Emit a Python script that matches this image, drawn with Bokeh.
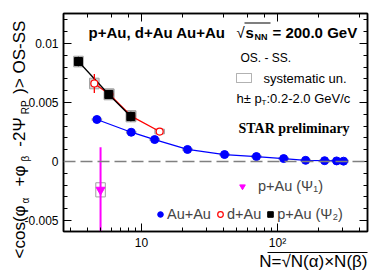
import math
from bokeh.plotting import figure
from bokeh.models import (Label, Span, BoxAnnotation, Legend, LegendItem, LinearAxis, LogAxis,
                          FixedTicker, PrintfTickFormatter, Range1d, LogTicker)
from bokeh.embed import file_html
from bokeh.resources import INLINE

# ---------------- data ----------------
auau_n = [4.7, 8.4, 12.5, 21.8, 40.8, 70, 111, 161, 222, 272, 306]
auau_v = [0.00356, 0.00248, 0.00186, 0.00102, 0.00059, 0.00042, 0.00025, 0.00010, 0.00007, 0.00005, 0.00003]
auau_sys = [0.0001] * 11

dau_n = [4.5, 5.8, 8.4, 13.6]
dau_v = [0.00661, 0.00570, 0.00385, 0.00254]
dau_err = [0.0008, 0.0002, 0.0003, 0.0001]
dau_sys = [0.00045, 0.00045, 0.00045, 0.0002]

pau2_n = [3.44, 5.75, 8.35]
pau2_v = [0.00847, 0.00568, 0.00381]
pau2_err = [0.0004, 0.0002, 0.0004]
pau2_sys = [0.00045, 0.00045, 0.00045]

pau1_n = [5.0]
pau1_v = [-0.0024]
pau1_err = [0.0036]
pau1_sys = [0.0006]

y_ticks = [-0.005, 0.0, 0.005, 0.01]

FONT = "Liberation Sans"
NB = "\u00a0"
# frame position on page
FL, FB, FR, FT = 63, 231, 367, 13
X_MIN, X_MAX = 2.67, 459

p = figure(width=382, height=274, x_axis_type="log",
           x_range=Range1d(X_MIN, X_MAX), y_range=Range1d(-0.00593, 0.01254),
           output_backend="svg", toolbar_location=None,
           min_border_left=FL, min_border_right=382 - FR, min_border_top=FT, min_border_bottom=274 - FB)
p.xgrid.visible = False
p.ygrid.visible = False
p.outline_line_color = "black"
p.outline_line_width = 1.5
p.background_fill_color = "white"

HW = 0.035  # half width of syst boxes in decades


def sysbox(ns, vs, ss, fill, line):
    p.quad(left=[n * 10 ** -HW for n in ns], right=[n * 10 ** HW for n in ns],
           bottom=[v - s for v, s in zip(vs, ss)], top=[v + s for v, s in zip(vs, ss)],
           fill_color=fill if fill else "white", fill_alpha=0.8 if fill else 0, line_color=line, line_width=1)


p.add_layout(Span(location=0, dimension="width", line_color="#808080", line_width=1.5, line_dash="12 5"))

sysbox(auau_n, auau_v, auau_sys, None, "#a0a0a0")
sysbox(dau_n, dau_v, dau_sys, "#c8c8c8", "#a0a0a0")
sysbox(pau2_n, pau2_v, pau2_sys, "#c8c8c8", "#a0a0a0")
sysbox(pau1_n, pau1_v, pau1_sys, None, "#a0a0a0")

p.line(auau_n, auau_v, line_color="#0000ff", line_width=1.3)
p.line(dau_n, dau_v, line_color="#ff0000", line_width=1.3)
p.line(pau2_n, pau2_v, line_color="black", line_width=1.3)

p.segment(x0=dau_n, x1=dau_n, y0=[v - e for v, e in zip(dau_v, dau_err)],
          y1=[v + e for v, e in zip(dau_v, dau_err)], line_color="#ff0000", line_width=1.3)
p.segment(x0=pau2_n, x1=pau2_n, y0=[v - e for v, e in zip(pau2_v, pau2_err)],
          y1=[v + e for v, e in zip(pau2_v, pau2_err)], line_color="black", line_width=1.3)
p.segment(x0=pau1_n, x1=pau1_n, y0=[v - e for v, e in zip(pau1_v, pau1_err)],
          y1=[v + e for v, e in zip(pau1_v, pau1_err)], line_color="#ff00ff", line_width=2)

r_auau = p.scatter(auau_n, auau_v, marker="circle", size=8, fill_color="#0000ff", line_color="#0000ff")
r_dau = p.scatter(dau_n, dau_v, marker="circle", size=7, fill_color="white", line_color="#ff0000", line_width=1.2)
r_pau2 = p.scatter(pau2_n, pau2_v, marker="square", size=8, fill_color="black", line_color="black")
r_pau1 = p.scatter(pau1_n, pau1_v, marker="inverted_triangle", size=9, fill_color="#ff00ff", line_color="#ff00ff")

# ---------------- axes ----------------
def style_axis(ax, labels=True):
    ax.major_tick_in = 8
    ax.major_tick_out = 0
    ax.minor_tick_in = 4
    ax.minor_tick_out = 0
    ax.axis_line_width = 1.5
    ax.major_tick_line_width = 1
    ax.minor_tick_line_width = 1
    ax.major_label_text_font = FONT
    ax.major_label_text_color = "black"
    if labels:
        ax.major_label_text_font_size = "12px"
    else:
        ax.major_label_text_font_size = "1px"
        ax.major_label_text_alpha = 0
        ax.major_label_standoff = 0
        ax.axis_label_standoff = 0


yt = FixedTicker(ticks=y_ticks, minor_ticks=[round(-0.006 + 0.001 * i, 4) for i in range(19)])
p.yaxis.ticker = yt
p.yaxis.formatter = PrintfTickFormatter(format="%g")
style_axis(p.yaxis[0])
p.yaxis.major_label_standoff = 5
style_axis(p.xaxis[0])
p.xaxis.major_label_overrides = {10: "10", 100: "10²"}
p.xaxis.major_label_standoff = 4

ra = LinearAxis(ticker=yt)
style_axis(ra, labels=False)
p.add_layout(ra, "right")
ta = LogAxis(ticker=LogTicker())
style_axis(ta, labels=False)
p.add_layout(ta, "above")

# overline of the square root in the x label: a bounded, tick-less axis line
ov = LogAxis(ticker=FixedTicker(ticks=[]), bounds=(84.4, X_MAX))
ov.major_tick_line_color = None
ov.minor_tick_line_color = None
ov.major_label_text_font_size = "1px"
ov.major_label_text_alpha = 0
ov.major_label_standoff = 0
ov.axis_label_standoff = 0
ov.axis_line_width = 1.2
ov.axis_line_color = "black"
p.add_layout(ov, "below")

# ---------------- text helpers ----------------
def lab(text, X, Y, size, bold=False, font=FONT, angle=0.0, align="left", baseline="middle", color="black"):
    p.add_layout(Label(x=X - FL, y=FB - Y, x_units="screen", y_units="screen", text=text,
                       text_font=font, text_font_size=f"{size}px",
                       text_font_style="bold" if bold else "normal", angle=angle,
                       text_align=align, text_baseline=baseline, text_color=color))


def side_lab(side, text, x, y, size, bold=False, angle=0.0, align="left", baseline="middle"):
    p.add_layout(Label(x=x, y=y, x_units="screen", y_units="screen", text=text,
                       text_font=FONT, text_font_size=f"{size}px",
                       text_font_style="bold" if bold else "normal", angle=angle,
                       text_align=align, text_baseline=baseline, text_color="black"), side)


def hbar(X0, X1, Y0, Y1, fill="black", line=None):
    p.add_layout(BoxAnnotation(left=X0 - FL, right=X1 - FL, top=FB - Y0, bottom=FB - Y1,
                               left_units="screen", right_units="screen",
                               top_units="screen", bottom_units="screen",
                               fill_color=fill if fill else "white", fill_alpha=1 if fill else 0,
                               line_color=line, line_width=1))


# header
lab("p+Au, d+Au Au+Au", 88, 32, 15, bold=True)
lab("√", 236, 32, 15)
lab("s", 245, 32, 15, bold=True)
lab("NN", 254, 36, 9, bold=True)
lab("= 200.0 GeV", 272, 32, 15, bold=True)
hbar(244, 270, 22, 23)

lab("OS. - SS.", 240, 57, 12)
hbar(236, 251, 73, 82, fill=None, line="black")
lab("systematic un.", 263, 78, 13)
lab("h± p", 236, 98, 13)
lab("T", 261, 102, 8)
lab(":0.2-2.0 GeV/c", 266, 98, 13)
lab("STAR preliminary", 238, 128, 14, bold=True, font="Liberation Serif")

# y label: main text in the left panel, subscripts in the right panel
A = math.pi / 2
ymain = "<cos(φ" + NB * 4 + "+φ" + NB * 4 + "-2Ψ" + NB * 5 + ")>" + NB + "OS-SS"
ysubs = "α" + NB * 13 + "β" + NB * 15 + "RP"
side_lab("left", ymain, 17, -27, 17, angle=A, baseline="alphabetic")
side_lab("right", ysubs, -342, 28, 10, angle=A, baseline="alphabetic")

# x label in the below panel (under the overline axis)
side_lab("below", "N=√N(α)×N(β)", 304, 10, 17, align="right")

# legends
common = dict(border_line_color=None, background_fill_alpha=0, padding=0, margin=0,
              glyph_width=14, glyph_height=14, label_text_font=FONT,
              label_text_font_size="14.5px", label_height=14, orientation="horizontal")
leg1 = Legend(items=[LegendItem(label="p+Au (Ψ₁)", renderers=[r_pau1])], location=(235 - FL, FB - 194),
              spacing=2, label_standoff=9, **common)
leg2 = Legend(items=[LegendItem(label="Au+Au", renderers=[r_auau]),
                     LegendItem(label="d+Au", renderers=[r_dau]),
                     LegendItem(label="p+Au (Ψ₂)", renderers=[r_pau2])],
              location=(153 - FL, FB - 222), spacing=2, label_standoff=0, **common)
p.add_layout(leg1)
p.add_layout(leg2)

open("out.html", "w").write(file_html(p, INLINE))
